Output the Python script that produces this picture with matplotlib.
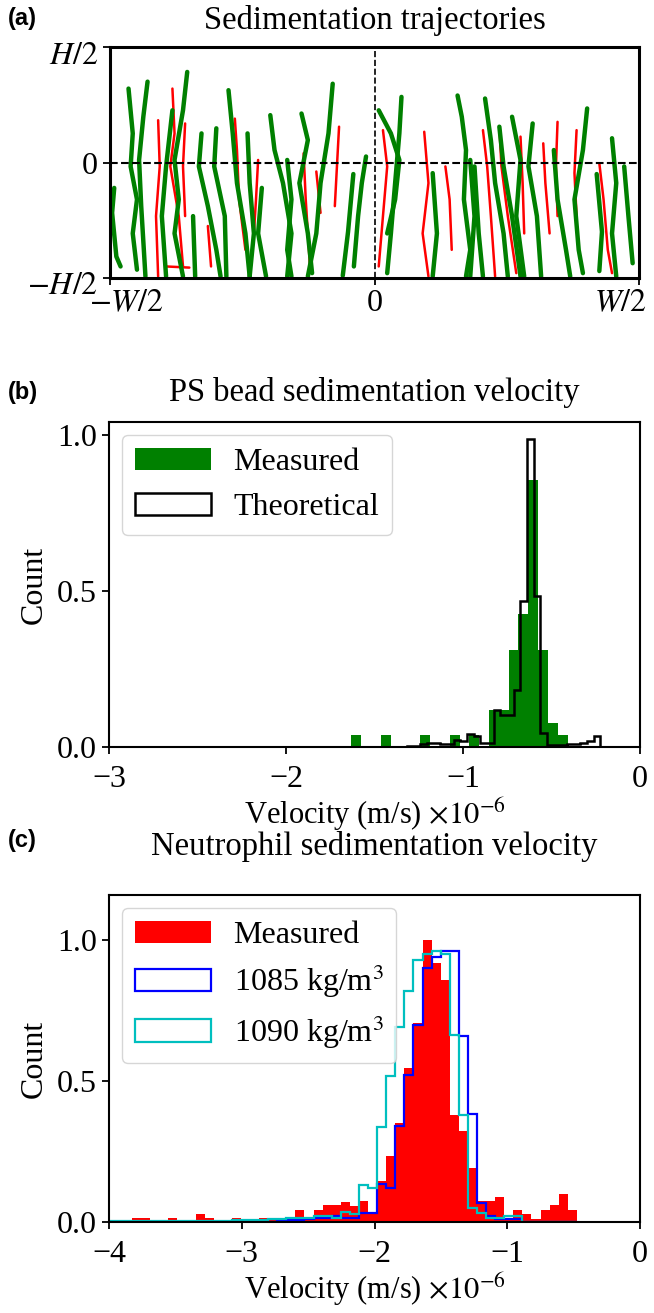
import numpy as np
import matplotlib
matplotlib.use("Agg")
import matplotlib.pyplot as plt
from matplotlib.transforms import ScaledTranslation

plt.rcParams['font.family'] = ['Liberation Serif', 'DejaVu Serif']
plt.rcParams['mathtext.fontset'] = 'stix'
plt.rcParams['font.size'] = 23
plt.rcParams['axes.linewidth'] = 1.5
plt.rcParams['xtick.major.width'] = 1.3
plt.rcParams['ytick.major.width'] = 1.3
plt.rcParams['xtick.major.size'] = 5
plt.rcParams['ytick.major.size'] = 5
plt.rcParams['xtick.major.pad'] = 8

# ---------------- Panel (a): trajectories (fractions of W and H) ----------------
green_x = [
    [-0.492, -0.496, -0.488, -0.48],
    [-0.465, -0.457, -0.461, -0.449, -0.457, -0.449],
    [-0.429, -0.437, -0.445, -0.441, -0.433],
    [-0.354, -0.362, -0.378, -0.37, -0.378, -0.362],
    [-0.382, -0.394, -0.402, -0.394],
    [-0.327, -0.332, -0.315, -0.299, -0.291],
    [-0.299, -0.303, -0.283, -0.28],
    [-0.276, -0.268, -0.26, -0.244, -0.236],
    [-0.197, -0.189, -0.173, -0.157, -0.165],
    [-0.138, -0.126, -0.142, -0.126, -0.118],
    [-0.079, -0.087, -0.102, -0.11, -0.126],
    [-0.016, -0.024, -0.031, -0.039],
    [0.008, 0.031, 0.047, 0.039, 0.024],
    [0.051, 0.047, 0.039, 0.031, 0.024],
    [0.157, 0.165, 0.173, 0.169, 0.181, 0.173],
    [0.209, 0.22, 0.228, 0.244, 0.252],
    [0.299, 0.291, 0.307, 0.315],
    [0.402, 0.394, 0.378, 0.386, 0.394],
    [0.449, 0.457, 0.449, 0.457],
    [0.472, 0.48, 0.488],
    [0.11, 0.118, 0.11],
    [0.236, 0.244, 0.26, 0.276],
    [0.339, 0.346, 0.362, 0.37],
    [0.26, 0.276, 0.268, 0.283],
    [-0.213, -0.22, -0.205],
    [-0.343, -0.339],
    [0.189, 0.197, 0.205],
    [-0.04, -0.05, -0.06],
    [-0.24, -0.236, -0.228, -0.236],
    [-0.165, -0.157, -0.165, -0.157],
    [0.181, 0.189, 0.181],
    [0.42, 0.43, 0.425],
]
green_y = [
    [-0.11, -0.218, -0.407, -0.45],
    [0.32, 0.126, -0.017, -0.16, -0.307, -0.464],
    [0.35, 0.198, 0.011, -0.189, -0.493],
    [0.392, 0.226, 0.011, -0.16, -0.307, -0.493],
    [0.226, -0.017, -0.232, -0.493],
    [0.126, -0.017, -0.189, -0.378, -0.493],
    [0.148, -0.017, -0.232, -0.493],
    [0.313, 0.126, -0.089, -0.307, -0.493],
    [0.205, 0.054, -0.089, -0.307, -0.493],
    [0.212, 0.097, -0.089, -0.307, -0.479],
    [0.341, 0.126, -0.089, -0.307, -0.493],
    [0.026, -0.089, -0.232, -0.45],
    [0.226, 0.126, 0.011, -0.16, -0.307],
    [0.284, 0.126, -0.089, -0.307, -0.479],
    [0.29, 0.198, 0.054, -0.16, -0.378, -0.493],
    [0.277, 0.097, -0.089, -0.307, -0.493],
    [0.169, -0.017, -0.232, -0.493],
    [0.234, 0.054, -0.16, -0.378, -0.479],
    [0.105, -0.089, -0.307, -0.493],
    [-0.017, -0.232, -0.436],
    [-0.046, -0.307, -0.493],
    [0.155, -0.017, -0.232, -0.493],
    [0.054, -0.16, -0.378, -0.493],
    [0.198, 0.011, -0.232, -0.493],
    [-0.11, -0.307, -0.493],
    [-0.232, -0.493],
    [-0.017, -0.307, -0.493],
    [-0.05, -0.3, -0.49],
    [0.126, -0.089, -0.307, -0.493],
    [0.011, -0.16, -0.378, -0.493],
    [0.011, -0.232, -0.493],
    [-0.05, -0.3, -0.47],
]
red_x = [
    [-0.409, -0.406, -0.413, -0.409],
    [-0.382, -0.378, -0.386, -0.37, -0.362],
    [-0.358, -0.362, -0.358],
    [-0.264, -0.26, -0.256, -0.244],
    [-0.22, -0.224, -0.228],
    [-0.134, -0.13, -0.122],
    [-0.067, -0.071, -0.075],
    [0.016, 0.024, 0.016, 0.008],
    [0.094, 0.102, 0.091, 0.102],
    [0.134, 0.142, 0.146],
    [0.205, 0.213, 0.22, 0.228],
    [0.236, 0.24, 0.252, 0.268],
    [0.276, 0.28, 0.283],
    [0.319, 0.323, 0.331],
    [0.346, 0.343, 0.346],
    [0.382, 0.378, 0.382],
    [0.425, 0.433, 0.441, 0.449],
    [-0.315, -0.309],
    [-0.11, -0.102],
    [-0.394, -0.35],
]
red_y = [
    [0.183, -0.017, -0.232, -0.493],
    [0.32, 0.126, -0.017, -0.232, -0.45],
    [0.169, -0.017, -0.232],
    [0.19, 0.054, -0.16, -0.378],
    [0.011, -0.16, -0.307],
    [0.04, -0.16, -0.45],
    [0.155, -0.017, -0.189],
    [0.14, -0.017, -0.232, -0.45],
    [0.133, -0.089, -0.307, -0.493],
    [-0.017, -0.16, -0.378],
    [0.14, -0.017, -0.232, -0.493],
    [0.155, -0.017, -0.232, -0.479],
    [0.112, -0.089, -0.307],
    [0.083, -0.089, -0.307],
    [0.176, -0.017, -0.232],
    [0.14, -0.046, -0.232],
    [-0.003, -0.16, -0.378, -0.479],
    [-0.275, -0.45],
    [-0.039, -0.218],
    [-0.45, -0.455],
]

# ---------------- Panel (b): PS beads ----------------
b_meas_start, b_meas_width = -1.63, 0.0555
b_measured = [0.038, 0, 0, 0.038, 0, 0, 0, 0.038, 0, 0, 0.038, 0, 0.038, 0,
              0.118, 0.118, 0.309, 0.426, 0.856, 0.309, 0.076, 0.038]
b_theo_start, b_theo_width = -1.3155, 0.0376
b_theoretical = [0.003, 0.003, 0.0096, 0.012, 0.014, 0.0096, 0.009, 0.021, 0.018,
                 0.041, 0.035, 0.012, 0.014, 0.118, 0.102, 0.102, 0.182, 0.468,
                 0.985, 0.484, 0.045, 0.0064, 0.0064, 0.0064, 0.009, 0.009,
                 0.014, 0.018, 0.035]

# ---------------- Panel (c): neutrophils ----------------
c_start, c_width = -4.0322, 0.0684
c_measured = [0, 0, 0,
              0.013, 0.013, 0, 0, 0.013, 0, 0, 0.03, 0.013, 0, 0, 0.013, 0, 0,
              0.013, 0.013, 0.005, 0.005, 0.041, 0.015, 0.041, 0.059, 0.059, 0.07,
              0.055, 0.074, 0.03, 0.146, 0.234, 0.352, 0.547, 0.707, 1.0, 0.92,
              0.86, 0.38, 0.323, 0.193, 0.075, 0.075, 0.087, 0.01, 0.041, 0.03,
              0.012, 0.041, 0.059, 0.1, 0.041]
c_1085 = [0.001, 0.001, 0.001] + [0.001] * 16 + \
         [0.007, 0.007, 0.007, 0.009, 0.015, 0.015, 0.02, 0.015, 0.015, 0.033,
          0.033, 0.135, 0.12, 0.34, 0.52, 0.70, 0.90, 0.94, 0.96, 0.96, 0.66,
          0.383, 0.068, 0.02, 0.01, 0.01, 0.01, 0, 0, 0, 0, 0, 0]
c_1090 = [0.002, 0.002, 0.002] + [0.002] * 11 + \
         [0.006, 0.006, 0.006, 0.006, 0.01, 0.01, 0.015, 0.015, 0.015, 0.02,
          0.02, 0.015, 0.035, 0.03, 0.133, 0.12, 0.337, 0.518, 0.69, 0.82, 0.93,
          0.95, 0.96, 0.95, 0.663, 0.38, 0.05, 0.033, 0.015, 0.015, 0.02, 0.02,
          0, 0, 0, 0, 0, 0]

W, H = 654, 1313
fig = plt.figure(figsize=(W / 100, H / 100), dpi=100)

def ax_rect(l, r, t, b):
    return [l / W, 1 - b / H, (r - l) / W, (b - t) / H]

def shift(label, dx_px, dy_px):
    label.set_transform(label.get_transform() +
                        ScaledTranslation(dx_px / 100, dy_px / 100, fig.dpi_scale_trans))

# ---- (a)
ax_a = fig.add_axes(ax_rect(110, 639, 47, 278))
for xs, ys in zip(red_x, red_y):
    ax_a.plot(xs, ys, color='red', lw=1.8, solid_capstyle='round')
for xs, ys in zip(green_x, green_y):
    ax_a.plot(xs, ys, color='green', lw=3.2, solid_capstyle='round')
ax_a.axhline(0, color='black', ls='--', lw=1.5)
ax_a.axvline(0, color='black', ls='--', lw=1.2)
ax_a.set_xlim(-0.5, 0.5)
ax_a.set_ylim(-0.5, 0.5)
ax_a.set_xticks([-0.5, 0, 0.5])
ax_a.set_xticklabels([r'$-W/2$', '0', r'$W/2$'])
ax_a.set_yticks([-0.5, 0, 0.5])
ax_a.set_yticklabels([r'$-H/2$', '0', r'$H/2$'])
ax_a.tick_params(axis='x', pad=3)
for s in ax_a.spines.values():
    s.set_linewidth(2.2)
xl = ax_a.get_xticklabels()
shift(xl[0], 16, 0)
shift(xl[2], -19, 0)
yl = ax_a.get_yticklabels()
shift(yl[0], 0, -5)
shift(yl[2], 0, -6)

# ---- (b)
ax_b = fig.add_axes(ax_rect(109, 640, 422, 747))
edges_bm = b_meas_start + b_meas_width * np.arange(len(b_measured) + 1)
edges_bt = b_theo_start + b_theo_width * np.arange(len(b_theoretical) + 1)
ax_b.hist(edges_bm[:-1], bins=edges_bm, weights=b_measured, histtype='stepfilled',
          color='green', label='Measured')
ax_b.hist(edges_bt[:-1], bins=edges_bt, weights=b_theoretical, histtype='step',
          color='black', lw=1.8, label='Theoretical')
ax_b.set_xlim(-3, 0)
ax_b.set_ylim(0, 1.04)
ax_b.set_xticks([-3, -2, -1, 0])
ax_b.set_xticklabels(['\u22123', '\u22122', '\u22121', '0'])
ax_b.set_yticks([0, 0.5, 1.0])
ax_b.set_yticklabels(['0.0', '0.5', '1.0'])
ax_b.set_ylabel('Count', labelpad=6)
ax_b.set_xlabel(r'Velocity (m/s) $\times10^{-6}$', labelpad=1, fontsize=22)
ax_b.legend(loc='upper left', fontsize=23, borderaxespad=0.4,
            handlelength=2.4, handletextpad=0.7)

# ---- (c)
ax_c = fig.add_axes(ax_rect(109, 640, 895, 1222))
edges_c = c_start + c_width * np.arange(len(c_measured) + 1)
ax_c.hist(edges_c[:-1], bins=edges_c, weights=c_measured, histtype='stepfilled',
          color='red', label='Measured')
ax_c.hist(edges_c[:-1], bins=edges_c, weights=c_1085, histtype='step',
          color='blue', lw=1.6, label=r'1085 kg/m$^3$')
ax_c.hist(edges_c[:-1], bins=edges_c, weights=c_1090, histtype='step',
          color='c', lw=1.6, label=r'1090 kg/m$^3$')
ax_c.set_xlim(-4, 0)
ax_c.set_ylim(0, 1.16)
ax_c.set_xticks([-4, -3, -2, -1, 0])
ax_c.set_xticklabels(['\u22124', '\u22123', '\u22122', '\u22121', '0'])
ax_c.set_yticks([0, 0.5, 1.0])
ax_c.set_yticklabels(['0.0', '0.5', '1.0'])
ax_c.set_ylabel('Count', labelpad=6)
ax_c.set_xlabel(r'Velocity (m/s) $\times10^{-6}$', labelpad=1, fontsize=22)
ax_c.legend(loc='upper left', fontsize=23, borderaxespad=0.4,
            handlelength=2.4, handletextpad=0.7, labelspacing=0.4)

# titles and panel letters
cx = (110 + 639) / 2 / W
fig.text(cx, 1 - 20 / H, 'Sedimentation trajectories', ha='center', va='center', fontsize=23.5)
fig.text(cx, 1 - 392 / H, 'PS bead sedimentation velocity', ha='center', va='center', fontsize=23.5)
fig.text(cx, 1 - 846 / H, 'Neutrophil sedimentation velocity', ha='center', va='center', fontsize=23.5)
for lab, y in [('(a)', 18), ('(b)', 392), ('(c)', 840)]:
    fig.text(8 / W, 1 - y / H, lab, ha='left', va='center', fontsize=17,
             fontweight='bold', family=['Liberation Sans', 'DejaVu Sans'])

fig.savefig('out.png', dpi=100)
